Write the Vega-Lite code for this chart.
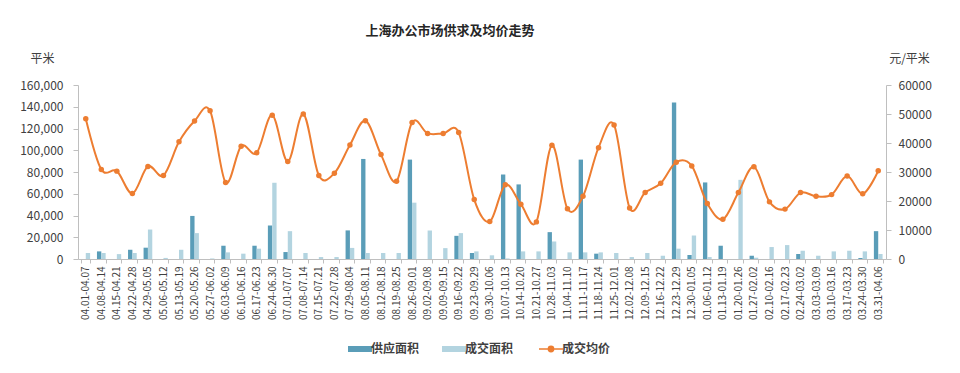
{
  "$schema": "https://vega.github.io/schema/vega-lite/v6.json",
  "width": 808,
  "height": 174,
  "autosize": {"type": "none"},
  "padding": {"left": 78, "top": 85, "right": 74, "bottom": 114},
  "background": "white",
  "config": {
    "view": {"stroke": null},
    "font": "Noto Sans CJK SC",
    "axis": {
      "domainColor": "#bfbfbf",
      "tickColor": "#bfbfbf",
      "labelColor": "#404040",
      "titleColor": "#404040",
      "grid": false
    }
  },
  "title": {
    "text": "上海办公市场供求及均价走势",
    "frame": "group",
    "anchor": "middle",
    "dx": -32,
    "offset": 14,
    "fontSize": 13,
    "fontWeight": "bold",
    "color": "#262626",
    "font": "Noto Sans CJK SC"
  },
  "data": {
    "values": [
      {"week": "04.01-04.07", "supply": 0, "deal": 5500, "price": 48400},
      {"week": "04.08-04.14", "supply": 7000, "deal": 5500, "price": 30900},
      {"week": "04.15-04.21", "supply": 0, "deal": 4500, "price": 30300},
      {"week": "04.22-04.28", "supply": 8500, "deal": 5500, "price": 22600},
      {"week": "04.29-05.05", "supply": 10400, "deal": 27100, "price": 31900},
      {"week": "05.06-05.12", "supply": 0, "deal": 1000, "price": 28800},
      {"week": "05.13-05.19", "supply": 0, "deal": 8500, "price": 40400},
      {"week": "05.20-05.26", "supply": 39600, "deal": 23800, "price": 47600},
      {"week": "05.27-06.02", "supply": 0, "deal": 500, "price": 51100},
      {"week": "06.03-06.09", "supply": 12200, "deal": 6100, "price": 26400},
      {"week": "06.10-06.16", "supply": 0, "deal": 4900, "price": 38900},
      {"week": "06.17-06.23", "supply": 12200, "deal": 9500, "price": 36600},
      {"week": "06.24-06.30", "supply": 30800, "deal": 70100, "price": 49600},
      {"week": "07.01-07.07", "supply": 6400, "deal": 25600, "price": 33600},
      {"week": "07.08-07.14", "supply": 0, "deal": 5500, "price": 50000},
      {"week": "07.15-07.21", "supply": 0, "deal": 1800, "price": 28800},
      {"week": "07.22-07.28", "supply": 0, "deal": 1800, "price": 29600},
      {"week": "07.29-08.04", "supply": 26300, "deal": 10200, "price": 39300},
      {"week": "08.05-08.11", "supply": 92000, "deal": 5500, "price": 47700},
      {"week": "08.12-08.18", "supply": 0, "deal": 5500, "price": 36000},
      {"week": "08.19-08.25", "supply": 0, "deal": 5500, "price": 26800},
      {"week": "08.26-09.01", "supply": 91400, "deal": 51800, "price": 47100},
      {"week": "09.02-09.08", "supply": 0, "deal": 26200, "price": 43300},
      {"week": "09.09-09.15", "supply": 0, "deal": 10000, "price": 43300},
      {"week": "09.16-09.22", "supply": 21300, "deal": 23800, "price": 43600},
      {"week": "09.23-09.29", "supply": 5500, "deal": 7000, "price": 20500},
      {"week": "09.30-10.06", "supply": 0, "deal": 3400, "price": 12900},
      {"week": "10.07-10.13", "supply": 77700, "deal": 500, "price": 25600},
      {"week": "10.14-10.20", "supply": 68600, "deal": 7000, "price": 18900},
      {"week": "10.21-10.27", "supply": 0, "deal": 7000, "price": 12800},
      {"week": "10.28-11.03", "supply": 24700, "deal": 16100, "price": 39200},
      {"week": "11.04-11.10", "supply": 0, "deal": 6100, "price": 17300},
      {"week": "11.11-11.17", "supply": 91400, "deal": 6100, "price": 21600},
      {"week": "11.18-11.24", "supply": 4900, "deal": 6100, "price": 38400},
      {"week": "11.25-12.01", "supply": 0, "deal": 5500, "price": 46200},
      {"week": "12.02-12.08", "supply": 0, "deal": 1800, "price": 17600},
      {"week": "12.09-12.15", "supply": 0, "deal": 5500, "price": 22900},
      {"week": "12.16-12.22", "supply": 0, "deal": 3000, "price": 26100},
      {"week": "12.23-12.29", "supply": 143800, "deal": 9500, "price": 33400},
      {"week": "12.30-01.05", "supply": 3700, "deal": 21600, "price": 32100},
      {"week": "01.06-01.12", "supply": 70400, "deal": 1800, "price": 19100},
      {"week": "01.13-01.19", "supply": 12200, "deal": 0, "price": 13700},
      {"week": "01.20-01.26", "supply": 0, "deal": 72800, "price": 22900},
      {"week": "01.27-02.02", "supply": 3000, "deal": 1200, "price": 31800},
      {"week": "02.10-02.16", "supply": 0, "deal": 11000, "price": 19700},
      {"week": "02.17-02.23", "supply": 0, "deal": 12800, "price": 17200},
      {"week": "02.24-03.02", "supply": 4600, "deal": 7600, "price": 22900},
      {"week": "03.03-03.09", "supply": 0, "deal": 3000, "price": 21600},
      {"week": "03.10-03.16", "supply": 0, "deal": 7000, "price": 22200},
      {"week": "03.17-03.23", "supply": 0, "deal": 7600, "price": 28600},
      {"week": "03.24-03.30", "supply": 900, "deal": 7000, "price": 22500},
      {"week": "03.31-04.06", "supply": 25600, "deal": 4600, "price": 30400}
    ]
  },
  "encoding": {
    "x": {
      "field": "week",
      "type": "nominal",
      "sort": null,
      "scale": {"paddingInner": 0.44, "paddingOuter": 0.22},
      "axis": {
        "title": null,
        "labelAngle": -90,
        "labelFontSize": 10,
        "labelOverlap": false,
        "labelPadding": 3,
        "tickBand": "extent",
        "tickSize": 4
      }
    }
  },
  "layer": [
    {
      "transform": [{"fold": ["supply", "deal"], "as": ["series", "value"]}],
      "mark": {"type": "bar"},
      "encoding": {
        "xOffset": {"field": "series", "type": "nominal", "scale": {"domain": ["supply", "deal"], "paddingInner": 0}},
        "y": {
          "field": "value",
          "type": "quantitative",
          "scale": {"domain": [0, 160000]},
          "axis": {
            "values": [0, 20000, 40000, 60000, 80000, 100000, 120000, 140000, 160000],
            "format": ",d",
            "labelFontSize": 12,
            "labelPadding": 10,
            "tickSize": 5,
            "title": "平米",
            "titleAngle": 0,
            "titleX": -36,
            "titleY": -27,
            "titleAlign": "center",
            "titleBaseline": "middle",
            "titleFontSize": 12,
            "titleFontWeight": "normal"
          }
        },
        "color": {
          "field": "series",
          "type": "nominal",
          "scale": {"domain": ["supply", "deal", "price"], "range": ["#5a9db8", "#b3d4e0", "#ed7d31"]},
          "legend": {
            "title": null,
            "orient": "none",
            "direction": "horizontal",
            "legendX": 276,
            "legendY": 258,
            "symbolSize": 576,
            "labelOffset": 5,
            "columnPadding": 22,
            "labelFontSize": 12,
            "labelFontWeight": "bold",
            "labelColor": "#404040",
            "labelExpr": "datum.label == 'supply' ? '供应面积' : datum.label == 'deal' ? '成交面积' : '成交均价'",
            "encode": {
              "symbols": {
                "update": {
                  "shape": {"signal": "datum.value === 'price' ? 'M-1,0H1M-0.22,0A0.22,0.22,0,1,1,0.22,0A0.22,0.22,0,1,1,-0.22,0Z' : 'M-1,-0.25H1V0.25H-1Z'"},
                  "fill": {"scale": "color", "field": "value"},
                  "stroke": {"scale": "color", "field": "value"},
                  "strokeWidth": {"signal": "datum.value === 'price' ? 1.5 : 0"},
                  "opacity": {"value": 1},
                  "fillOpacity": {"value": 1}
                }
              }
            }
          }
        }
      }
    },
    {
      "encoding": {
        "y": {
          "field": "price",
          "type": "quantitative",
          "scale": {"domain": [0, 60000]},
          "axis": {
            "orient": "right",
            "values": [0, 10000, 20000, 30000, 40000, 50000, 60000],
            "format": "d",
            "labelFontSize": 12,
            "labelPadding": 7,
            "tickSize": 5,
            "title": "元/平米",
            "titleAngle": 0,
            "titleX": 23,
            "titleY": -27,
            "titleAlign": "center",
            "titleBaseline": "middle",
            "titleFontSize": 12,
            "titleFontWeight": "normal"
          }
        },
        "color": {"datum": "price", "type": "nominal"}
      },
      "layer": [
        {"mark": {"type": "line", "interpolate": "cardinal", "strokeWidth": 2}},
        {"mark": {"type": "point", "filled": true, "size": 30, "opacity": 1}}
      ]
    }
  ],
  "resolve": {"scale": {"y": "independent"}}
}
